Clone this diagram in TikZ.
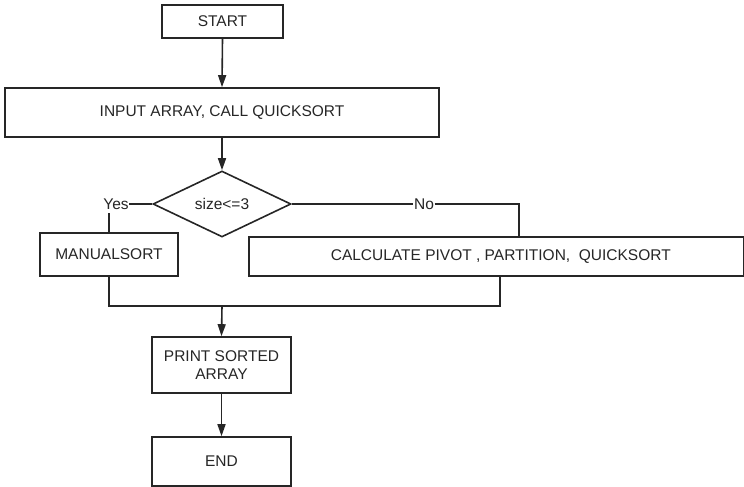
\documentclass[tikz,border=0pt]{standalone}
\usepackage{fontspec}
\setmainfont{Liberation Sans}
\usetikzlibrary{arrows.meta,shapes.geometric}
\begin{document}
\begin{tikzpicture}[x=1pt,y=-1pt,
  line width=1.6pt, draw=black!85,
  box/.style={draw=black!85, line width=1.6pt, rectangle, inner sep=0pt, font=\fontsize{15.5}{18}\selectfont, text=black!85, align=center},
  lbl/.style={inner sep=0pt, font=\fontsize{15.5}{18}\selectfont, text=black!85, fill=white},
  arr/.style={-{Triangle[length=12pt,width=8pt]}}]
\useasboundingbox (0,0) rectangle (744,487);
% boxes
\node[box, minimum width=121pt, minimum height=33pt] (start) at (222.5,21.5) {START};
\node[box, minimum width=434pt, minimum height=49pt] (input) at (222,112.5) {INPUT ARRAY, CALL QUICKSORT};
\node[draw=black!85, line width=1.6pt, diamond, aspect=2.09, minimum width=138pt, minimum height=66pt, inner sep=0pt, font=\fontsize{15.5}{18}\selectfont, text=black!85] (dec) at (222,204) {size<=3};
\node[box, minimum width=138pt, minimum height=43pt] (manual) at (109,254.5) {MANUALSORT};
\node[box, minimum width=495pt, minimum height=39pt, anchor=west] (calc) at (248,256.5) {\hspace*{4.5pt}CALCULATE PIVOT , PARTITION,\ \ QUICKSORT\hspace*{-4.5pt}};
\node[box, minimum width=139pt, minimum height=56pt] (print) at (221.5,365) {PRINT SORTED\\ARRAY};
\node[box, minimum width=139pt, minimum height=49pt] (end) at (221.5,461.5) {END};
% labels
\node[lbl] (yes) at (116,204) {Yes};
\node[lbl] (no) at (424,204) {No};
\coordinate (ydown) at (109,213);
\coordinate (nright) at (519,204);
\coordinate (merge) at (222,306);
\coordinate (mleft) at (109,306);
\coordinate (mright) at (500,306);
% connectors
\draw[arr] (start.south) -- (input.north);
\draw[arr] (input.south) -- (dec.north);
\draw (dec.west) -- (yes.east);
\draw (ydown) -- (manual.north);
\draw (dec.east) -- (no.west);
\draw (no.east) -- (nright) -- (nright |- calc.north);
\draw (manual.south) -- (mleft) -- (mright) -- (mright |- calc.south);
\draw[arr] (merge) -- (print.north);
\draw[arr] (print.south) -- (end.north);
\end{tikzpicture}
\end{document}
